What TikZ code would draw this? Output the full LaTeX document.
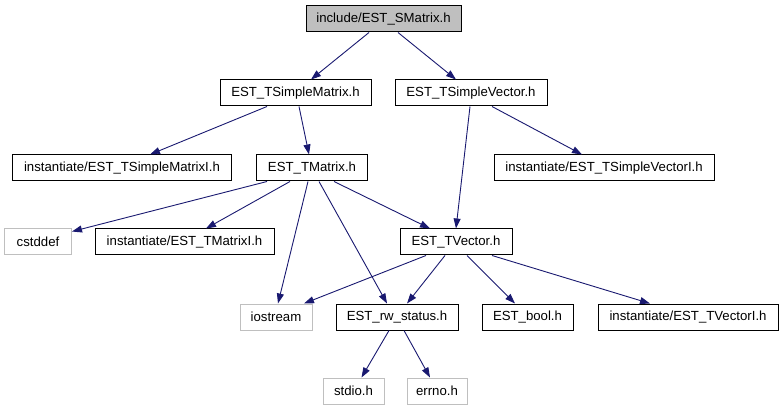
\documentclass[tikz,border=0pt]{standalone}
\usepackage{fontspec}
\setmainfont{Liberation Sans}
\usetikzlibrary{arrows.meta}
\definecolor{edgeblue}{HTML}{191970}
\definecolor{lgray}{HTML}{BFBFBF}
\tikzset{
  file/.style={draw=black, line width=1pt, minimum height=26pt, inner sep=0pt, font=\fontsize{13.2}{15}\selectfont, text=black},
  sysfile/.style={file, draw=lgray},
  rootfile/.style={file, fill=lgray},
  edge/.style={draw=edgeblue, line width=0.9pt, -{Triangle[length=10pt,width=7pt]}},
}
\begin{document}
\begin{tikzpicture}[x=1pt,y=-1pt]
\useasboundingbox (0,0) rectangle (783,411);
\node[rootfile, minimum width=155pt] (smat) at (383.5,19) {include/EST\_SMatrix.h};
\node[file, minimum width=151pt] (tsm) at (295.5,93) {EST\_TSimpleMatrix.h};
\node[file, minimum width=152pt] (tsv) at (471,93) {EST\_TSimpleVector.h};
\node[file, minimum width=219pt] (smi) at (122,168) {instantiate/EST\_TSimpleMatrixI.h};
\node[file, minimum width=111pt] (tmat) at (312,168) {EST\_TMatrix.h};
\node[file, minimum width=220pt] (svi) at (604,168) {instantiate/EST\_TSimpleVectorI.h};
\node[sysfile, minimum width=67pt] (cst) at (38,242) {cstddef};
\node[file, minimum width=179pt] (tmi) at (184.5,242) {instantiate/EST\_TMatrixI.h};
\node[file, minimum width=112pt] (tvec) at (456,242) {EST\_TVector.h};
\node[sysfile, minimum width=72pt] (ios) at (276,317) {iostream};
\node[file, minimum width=122pt] (rw) at (397,317) {EST\_rw\_status.h};
\node[file, minimum width=91pt] (bool) at (527.5,317) {EST\_bool.h};
\node[file, minimum width=180pt] (tvi) at (688,317) {instantiate/EST\_TVectorI.h};
\node[sysfile, minimum width=61pt] (stdio) at (353.5,391) {stdio.h};
\node[sysfile, minimum width=60pt] (errno) at (437,391) {errno.h};

\draw[edge] ([xshift=-14.5]smat.south) -- ([xshift=15.5]tsm.north);
\draw[edge] ([xshift=14.5]smat.south) -- ([xshift=-15]tsv.north);
\draw[edge] ([xshift=-28.5]tsm.south) -- ([xshift=28]smi.north);
\draw[edge] ([xshift=3.5]tsm.south) -- ([xshift=-3]tmat.north);
\draw[edge] ([xshift=-1]tsv.south) -- (tvec.north);
\draw[edge] ([xshift=21]tsv.south) -- ([xshift=-22]svi.north);
\draw[edge] ([xshift=-45]tmat.south) -- ([yshift=-3]cst.north east);
\draw[edge] ([xshift=-22]tmat.south) -- ([xshift=21.5]tmi.north);
\draw[edge] ([xshift=-4]tmat.south) -- ([xshift=2]ios.north);
\draw[edge] ([xshift=7]tmat.south) -- ([xshift=-10]rw.north);
\draw[edge] ([xshift=22]tmat.south) -- ([xshift=-26]tvec.north);
\draw[edge] ([xshift=-30]tvec.south) -- ([xshift=28]ios.north);
\draw[edge] ([xshift=-11]tvec.south) -- ([xshift=10]rw.north);
\draw[edge] ([xshift=11]tvec.south) -- ([xshift=-12.5]bool.north);
\draw[edge] ([xshift=36]tvec.south) -- ([xshift=-38]tvi.north);
\draw[edge] ([xshift=-8]rw.south) -- ([xshift=8]stdio.north);
\draw[edge] ([xshift=7]rw.south) -- ([xshift=-7]errno.north);
\end{tikzpicture}
\end{document}
